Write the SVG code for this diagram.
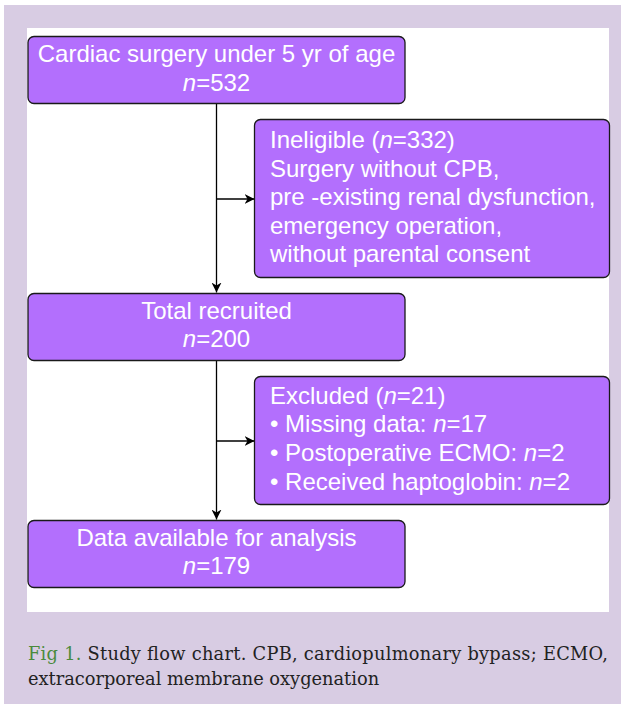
<svg xmlns="http://www.w3.org/2000/svg" width="625" height="709" viewBox="0 0 625 709">
<defs>
<style>
.box{fill:#b36ffd;stroke:#1a1a1a;stroke-width:1.3}
.t{font-family:"Liberation Sans",Arial,sans-serif;font-size:24px;fill:#ffffff}
.c{text-anchor:middle}
.i{font-style:italic}
.conn{stroke:#000;stroke-width:1.3;fill:none}
.cap{font-family:"DejaVu Serif","Liberation Serif",serif;font-size:17.8px;fill:#222}
</style>
<marker id="ah" viewBox="0 0 10 10" refX="10" refY="5" markerWidth="10" markerHeight="10" markerUnits="userSpaceOnUse" orient="auto">
<path d="M0,0 L10,5 L0,10 L3,5 Z" fill="#000"/>
</marker>
</defs>
<rect x="0" y="0" width="625" height="709" fill="#ffffff"/>
<rect x="4" y="5" width="617" height="699" fill="#d8cce3"/>
<rect x="27" y="28" width="582" height="584" fill="#ffffff"/>
<g id="connectors">
<line class="conn" x1="216.5" y1="104" x2="216.5" y2="292.5" marker-end="url(#ah)"/>
<line class="conn" x1="216.5" y1="199" x2="254.5" y2="199" marker-end="url(#ah)"/>
<line class="conn" x1="216.5" y1="361" x2="216.5" y2="519.5" marker-end="url(#ah)"/>
<line class="conn" x1="216.5" y1="441" x2="254.5" y2="441" marker-end="url(#ah)"/>
</g>
<g id="n1">
<rect class="box" x="28" y="36.5" width="377" height="67" rx="6"/>
<text class="t c" x="216.5" y="62">Cardiac surgery under 5 yr of age</text>
<text class="t c" x="216.5" y="91"><tspan class="i">n</tspan>=532</text>
</g>
<g id="n2">
<rect class="box" x="254.5" y="119.5" width="355" height="158" rx="6"/>
<text class="t" x="270" y="148"><tspan>Ineligible (</tspan><tspan class="i">n</tspan><tspan>=332)</tspan></text>
<text class="t" x="270" y="176.5">Surgery without CPB,</text>
<text class="t" x="270" y="205">pre -existing renal dysfunction,</text>
<text class="t" x="270" y="233.5">emergency operation,</text>
<text class="t" x="270" y="262">without parental consent</text>
</g>
<g id="n3">
<rect class="box" x="28" y="293.5" width="377" height="67" rx="6"/>
<text class="t c" x="216.5" y="318.5">Total recruited</text>
<text class="t c" x="216.5" y="347"><tspan class="i">n</tspan>=200</text>
</g>
<g id="n4">
<rect class="box" x="254.5" y="376.5" width="355" height="128" rx="6"/>
<text class="t" x="270" y="403.5"><tspan>Excluded (</tspan><tspan class="i">n</tspan><tspan>=21)</tspan></text>
<text class="t" x="270" y="432">• Missing data: <tspan class="i">n</tspan>=17</text>
<text class="t" x="270" y="461">• Postoperative ECMO: <tspan class="i">n</tspan>=2</text>
<text class="t" x="270" y="489.5">• Received haptoglobin: <tspan class="i">n</tspan>=2</text>
</g>
<g id="n5">
<rect class="box" x="28" y="520.5" width="377" height="67" rx="6"/>
<text class="t c" x="216.5" y="545.5">Data available for analysis</text>
<text class="t c" x="216.5" y="574"><tspan class="i">n</tspan>=179</text>
</g>
<g id="caption">
<text class="cap" x="28" y="660" textLength="580" lengthAdjust="spacing"><tspan fill="#4a8a3c">Fig 1.</tspan> Study flow chart. CPB, cardiopulmonary bypass; ECMO,</text>
<text class="cap" x="28" y="684.5">extracorporeal membrane oxygenation</text>
</g>
</svg>
